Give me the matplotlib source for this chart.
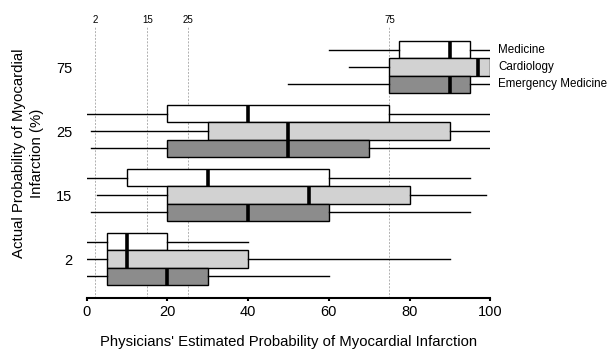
import matplotlib
matplotlib.use("Agg")
import matplotlib.pyplot as plt
import matplotlib.transforms as mtransforms

plt.rcParams['font.family'] = ['Liberation Sans', 'DejaVu Sans']

# ── Data (estimated probability, %) ───────────────────────────────────────────
actual_groups = ["2", "15", "25", "75"]
specialties   = ["Medicine", "Cardiology", "Emergency Medicine"]

# per specialty: one value per actual-probability group (2, 15, 25, 75)
whislo = {"Medicine":           [0, 0, 0, 60],
          "Cardiology":         [0, 2.5, 1, 65],
          "Emergency Medicine": [0, 1, 1, 50]}
q1     = {"Medicine":           [5, 10, 20, 77.5],
          "Cardiology":         [5, 20, 30, 75],
          "Emergency Medicine": [5, 20, 20, 75]}
med    = {"Medicine":           [10, 30, 40, 90],
          "Cardiology":         [10, 55, 50, 97],
          "Emergency Medicine": [20, 40, 50, 90]}
q3     = {"Medicine":           [20, 60, 75, 95],
          "Cardiology":         [40, 80, 90, 100],
          "Emergency Medicine": [30, 60, 70, 95]}
whishi = {"Medicine":           [40, 95, 100, 100],
          "Cardiology":         [90, 99, 100, 100],
          "Emergency Medicine": [60, 95, 100, 100]}

reference_lines = [2, 15, 25, 75]

# ── Style ─────────────────────────────────────────────────────────────────────
fills   = {"Medicine": "white", "Cardiology": "#d2d2d2", "Emergency Medicine": "#8c8c8c"}
offsets = {"Medicine": 0.27, "Cardiology": 0.0, "Emergency Medicine": -0.27}
BOX_H = 0.27

fig = plt.figure(figsize=(6.09, 3.52), dpi=100)
ax = fig.add_axes([0.1424, 0.1525, 0.6626, 0.7705])

for v in reference_lines:
    ax.axvline(v, color="#b0b0b0", linestyle=(0, (2, 1.5)), linewidth=0.7, zorder=0)

for sp in specialties:
    stats = []
    for i in range(len(actual_groups)):
        stats.append(dict(whislo=whislo[sp][i], q1=q1[sp][i], med=med[sp][i],
                          q3=q3[sp][i], whishi=whishi[sp][i], fliers=[]))
    pos = [i + offsets[sp] for i in range(len(actual_groups))]
    ax.bxp(stats, positions=pos, widths=BOX_H, orientation="horizontal",
           patch_artist=True, showcaps=False, showfliers=False,
           boxprops=dict(facecolor=fills[sp], edgecolor="black", linewidth=1.0),
           medianprops=dict(color="black", linewidth=2.6, solid_capstyle="butt"),
           whiskerprops=dict(color="black", linewidth=1.0), manage_ticks=False)

# legend labels beside the top group
top = len(actual_groups) - 1
for sp in specialties:
    ax.text(102, top + offsets[sp], sp, ha="left", va="center", fontsize=8.4,
            clip_on=False)

# reference line labels above the plot
trans = mtransforms.blended_transform_factory(ax.transData, ax.transAxes)
for v in reference_lines:
    ax.text(v, 1.008, str(v), transform=trans, ha="center", va="bottom",
            fontsize=7)

ax.set_xlim(0, 100)
ax.set_ylim(-0.614, 3.625)
ax.set_xticks([0, 20, 40, 60, 80, 100])
ax.set_yticks(range(len(actual_groups)))
ax.set_yticklabels(actual_groups)
ax.tick_params(axis="y", length=0, pad=10.5, labelsize=10.5)
ax.tick_params(axis="x", length=2.5, width=1.5, labelsize=10.5, pad=2)

for s in ["top", "right", "left"]:
    ax.spines[s].set_visible(False)
ax.spines["bottom"].set_linewidth(1.5)

ax.set_xlabel("Physicians' Estimated Probability of Myocardial Infarction",
              fontsize=10.7, labelpad=12)
fig.text(0.046, 0.565, "Actual Probability of Myocardial\nInfarction (%)",
         rotation=90, ha="center", va="center", multialignment="center",
         fontsize=10.8, linespacing=1.45)

fig.savefig("out.png", dpi=100)
